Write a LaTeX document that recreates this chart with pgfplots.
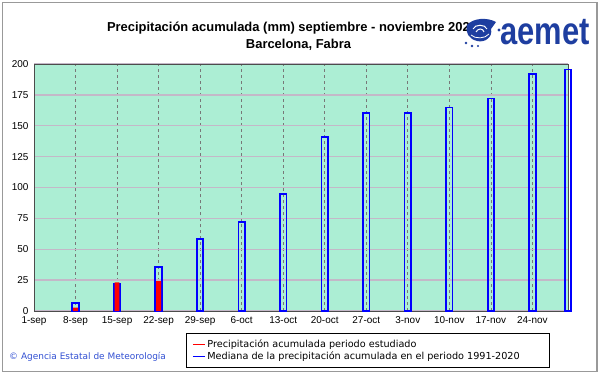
\documentclass[border=0pt]{standalone}
\usepackage{fontspec}
\setmainfont{Liberation Sans}
\newfontfamily\dejavu{DejaVu Sans}
\usepackage{pgfplots}
\pgfplotsset{compat=1.18}
\definecolor{bg}{RGB}{172,238,212}
\definecolor{hgrid}{RGB}{196,184,200}
\definecolor{vgrid}{RGB}{120,120,120}
\definecolor{aemetblue}{RGB}{30,62,160}
\definecolor{barblue}{RGB}{0,0,255}
\definecolor{barred}{RGB}{255,0,0}
\begin{document}
\begin{tikzpicture}
\path[use as bounding box] (0bp,0bp) rectangle (601bp,374bp);
\draw[gray!80, line width=1.5bp] (2.5bp,2.5bp) rectangle (597bp,371.5bp);
\begin{axis}[
  at={(34bp,63bp)}, anchor=south west,
  width=534bp, height=247bp, scale only axis,
  xmin=0, xmax=90, ymin=0, ymax=200,
  xtick={0,7,...,84},
  xticklabels={1-sep,8-sep,15-sep,22-sep,29-sep,6-oct,13-oct,20-oct,27-oct,3-nov,10-nov,17-nov,24-nov},
  ytick={0,25,...,200},
  major tick length=0pt,
  xmajorgrids, ymajorgrids,
  x grid style={vgrid, dashed, line width=0.7bp},
  y grid style={hgrid, line width=1.3bp},
  axis background/.style={fill=bg},
  axis line style={black!70, line width=0.9bp},
  tick label style={font=\fontsize{10}{12}\selectfont},
  /pgf/number format/assume math mode=true,
  xticklabel style={yshift=-2bp},
  yticklabel style={xshift=-2bp},
  clip=false,
  legend style={at={(axis description cs:0.285,-0.089)}, anchor=north west,
    draw=black, line width=0.8bp, font=\dejavu\fontsize{9.7}{11}\selectfont,
    inner xsep=6bp, inner ysep=4bp, row sep=-0.5bp},
  legend cell align=left,
]
\addplot[ybar, bar width=6.5bp, bar shift=0pt, draw=barblue, fill=none, line width=1.8bp, forget plot]
 coordinates {(7,6.8) (14,21.7) (21,35.7) (28,58.4) (35,72) (42,94.6) (49,141) (56,160) (63,160) (70,164.8) (77,172) (84,192) (90,195.6)};
\addplot[ybar, bar width=4.8bp, bar shift=0pt, draw=none, fill=barred, forget plot]
 coordinates {(7,2.8) (14,23.2) (21,24.1)};
\addlegendimage{legend image code/.code={\draw[barred, line width=0.8bp] (0bp,0bp) -- (12bp,0bp);}}
\addlegendentry{Precipitación acumulada periodo estudiado}
\addlegendimage{legend image code/.code={\draw[barblue, line width=0.8bp] (0bp,0bp) -- (12bp,0bp);}}
\addlegendentry{Mediana de la precipitación acumulada en el periodo 1991-2020\hspace*{22bp}}
\end{axis}
% titles
\node[font=\bfseries\fontsize{13}{15}\selectfont] at (292bp,346bp) {Precipitación acumulada (mm) septiembre - noviembre 2023};
\node[font=\bfseries\fontsize{13}{15}\selectfont] at (298.5bp,329bp) {Barcelona, Fabra};
% logo icon
\begin{scope}[shift={(481bp,343bp)}, x=1bp, y=1bp]
  \fill[aemetblue] (-14,6) .. controls (-8,13) and (6,14) .. (15,9) -- (10,2) .. controls (12,-6) and (4,-12) .. (-4,-10) .. controls (-12,-8) and (-16,-2) .. (-14,6) -- cycle;
  \draw[white, line width=1bp] (-8,2) .. controls (-6,7) and (4,7) .. (6,2);
  \draw[white, line width=1bp] (-5,-1) .. controls (-3,3) and (2,3) .. (3,-1);
  \draw[white, line width=0.8bp] (-10,-4) .. controls (-6,-8) and (4,-8) .. (8,-3);
  \fill[aemetblue] (18,1) circle (1.6);
  \fill[aemetblue] (-15,-12) circle (1.3);
  \fill[aemetblue] (-9,-15) circle (1.3);
  \fill[aemetblue] (-3,-15) circle (1.1);
\end{scope}
\node[font=\bfseries\fontsize{31}{31}\selectfont, text=aemetblue, anchor=west, inner sep=0pt, yscale=1.25] at (500bp,342bp) {aemet};
% footer
\node[anchor=west, text={rgb,255:red,50;green,80;blue,210}, font=\dejavu\fontsize{9}{10}\selectfont, inner sep=0pt] at (9bp,17bp) {© Agencia Estatal de Meteorología};
\end{tikzpicture}
\end{document}
